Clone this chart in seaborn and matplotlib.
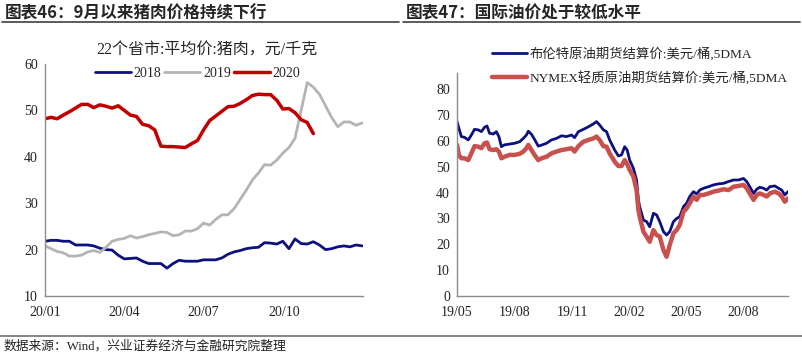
import pandas as pd
import matplotlib
matplotlib.use("Agg")
import matplotlib.pyplot as plt
import seaborn as sns

sns.set_style("white")
plt.rcParams["font.family"] = ["Liberation Serif", "Noto Sans CJK SC", "DejaVu Sans"]
plt.rcParams["axes.unicode_minus"] = False

# %% pork price data (weekly, plotted on a 2020 calendar)
pork_2018 = [21.8, 22.0, 22.0, 21.8, 21.8, 21.0, 21.0, 21.0, 20.8, 20.3, 20.0, 19.9, 18.8,
             18.0, 18.1, 18.2, 17.5, 17.0, 17.0, 17.0, 16.0, 17.0, 17.7, 17.5, 17.5, 17.5,
             17.8, 17.8, 17.8, 18.2, 19.0, 19.5, 19.8, 20.2, 20.4, 20.5, 21.5, 21.4, 21.2,
             21.8, 20.2, 22.3, 21.3, 21.2, 21.7, 21.0, 20.0, 20.2, 20.6, 20.8, 20.6, 21.0, 20.8]
pork_2019 = [20.8, 20.2, 19.6, 19.3, 18.6, 18.6, 18.8, 19.5, 19.8, 19.4, 20.5, 21.8, 22.2,
             22.4, 23.0, 22.5, 22.8, 23.2, 23.5, 23.8, 23.7, 23.0, 23.2, 24.0, 24.0, 24.5,
             25.7, 25.3, 26.5, 27.5, 27.5, 28.8, 30.8, 32.8, 35.0, 36.5, 38.3, 38.2, 39.3,
             40.8, 42.0, 44.0, 50.0, 56.0, 55.0, 53.5, 51.0, 48.5, 46.5, 47.5, 47.5, 46.8, 47.3]
pork_2020 = [48.2, 48.5, 48.2, 49.0, 49.7, 50.5, 51.3, 51.3, 50.6, 51.2, 50.9, 50.5, 51.0,
             50.0, 49.0, 48.7, 47.0, 46.7, 45.8, 42.3, 42.2, 42.2, 42.1, 42.0, 42.8, 43.5,
             45.8, 47.8, 48.8, 49.8, 50.8, 50.9, 51.5, 52.3, 53.2, 53.5, 53.4, 53.4, 52.2,
             50.3, 50.4, 49.5, 48.0, 47.4, 45.0]
pork_years = ["2018", "2019", "2020"]
pork_colors = ["#0D1180", "#B4B4B4", "#C00000"]

# %% oil price data (5DMA)
oil_dates = ["2019-05-01", "2019-05-04", "2019-05-08", "2019-05-13", "2019-05-19", "2019-05-24",
             "2019-05-29", "2019-06-04", "2019-06-09", "2019-06-14", "2019-06-18", "2019-06-22",
             "2019-06-28", "2019-07-03", "2019-07-07", "2019-07-11", "2019-07-16", "2019-07-24",
             "2019-08-01", "2019-08-09", "2019-08-15", "2019-08-20", "2019-08-23", "2019-08-28",
             "2019-09-02", "2019-09-08", "2019-09-13", "2019-09-21", "2019-09-29", "2019-10-07",
             "2019-10-15", "2019-10-23", "2019-10-31", "2019-11-05", "2019-11-11", "2019-11-19",
             "2019-11-27", "2019-12-05", "2019-12-10", "2019-12-15", "2019-12-21", "2019-12-26",
             "2019-12-31", "2020-01-08", "2020-01-14", "2020-01-19", "2020-01-24", "2020-01-28",
             "2020-02-01", "2020-02-07", "2020-02-12", "2020-02-15", "2020-02-17", "2020-02-23",
             "2020-02-28", "2020-03-04", "2020-03-10", "2020-03-15", "2020-03-20", "2020-03-26",
             "2020-03-31", "2020-04-05", "2020-04-11", "2020-04-16", "2020-04-21", "2020-04-27",
             "2020-05-02", "2020-05-07", "2020-05-13", "2020-05-18", "2020-05-23", "2020-05-29",
             "2020-06-06", "2020-06-14", "2020-06-22", "2020-06-30", "2020-07-08", "2020-07-16",
             "2020-07-24", "2020-08-01", "2020-08-06", "2020-08-11", "2020-08-17", "2020-08-22",
             "2020-08-27", "2020-09-02", "2020-09-07", "2020-09-12", "2020-09-20", "2020-09-26",
             "2020-10-01", "2020-10-06", "2020-10-11"]
brent = [67.5, 65.0, 61.7, 61.4, 60.4, 62.3, 64.5, 64.3, 63.6, 65.3, 65.8, 63.0,
         62.7, 63.6, 61.7, 57.8, 58.5, 58.8, 59.1, 59.7, 61.0, 62.3, 63.8, 62.6,
         60.6, 58.0, 58.4, 59.1, 60.4, 61.0, 62.0, 61.7, 62.3, 61.3, 63.6, 64.5,
         65.5, 66.6, 67.5, 66.2, 64.3, 63.6, 60.4, 56.5, 54.2, 54.6, 57.8, 56.5,
         52.6, 49.4, 44.9, 37.2, 34.6, 29.4, 28.8, 26.8, 32.0, 31.4, 28.8, 24.9,
         23.6, 24.9, 28.8, 30.0, 30.7, 34.6, 35.9, 38.5, 40.4, 39.5, 41.0, 41.7,
         42.3, 43.0, 43.4, 43.6, 44.3, 44.9, 44.9, 45.5, 44.3, 42.3, 39.7, 41.3,
         42.1, 41.7, 41.0, 42.3, 42.6, 41.7, 41.0, 39.1, 40.4]
nymex = [58.5, 54.6, 53.3, 53.3, 52.6, 55.2, 58.0, 57.8, 57.2, 59.1, 59.4, 56.8,
         56.5, 56.8, 55.9, 53.3, 53.9, 54.6, 54.6, 55.0, 55.9, 57.2, 58.5, 56.5,
         54.6, 52.6, 53.3, 53.9, 55.2, 55.9, 56.5, 56.8, 57.2, 55.9, 58.0, 59.7,
         60.4, 61.0, 61.7, 60.4, 58.0, 57.8, 55.2, 52.0, 50.3, 50.3, 52.6, 51.1,
         48.8, 46.2, 41.0, 33.3, 30.7, 24.9, 23.0, 21.0, 25.5, 23.6, 23.0, 17.8,
         15.2, 19.7, 24.3, 25.5, 27.5, 32.6, 33.9, 35.9, 38.5, 37.2, 39.1, 39.1,
         39.7, 40.4, 40.8, 41.3, 41.0, 42.3, 42.6, 43.0, 41.7, 39.7, 37.2, 39.1,
         39.7, 39.1, 38.5, 39.7, 40.4, 39.7, 38.5, 36.5, 37.8]
oil_names = ["布伦特原油期货结算价:美元/桶,5DMA", "NYMEX轻质原油期货结算价:美元/桶,5DMA"]
oil_colors = ["#0D1180", "#C8504D"]
oil_widths = [2.0, 3.2]

# %% build frames
weeks = pd.date_range("2020-01-01", periods=len(pork_2018), freq="7D")
pork = pd.concat([
    pd.DataFrame({"date": weeks[:len(vals)], "price": vals, "year": yr})
    for yr, vals in zip(pork_years, [pork_2018, pork_2019, pork_2020])
])
oil = pd.concat([
    pd.DataFrame({"date": pd.to_datetime(oil_dates), "price": vals, "name": nm})
    for nm, vals in zip(oil_names, [brent, nymex])
])

fig = plt.figure(figsize=(8.02, 3.56), dpi=100)
ax1 = fig.add_axes([0.0561, 0.1685, 0.3965, 0.6517])
ax2 = fig.add_axes([0.5698, 0.1685, 0.4127, 0.6264])

sns.lineplot(data=pork, x="date", y="price", hue="year", palette=pork_colors,
             ax=ax1, legend=False)
for line, lw in zip(ax1.lines, [2.0, 2.0, 2.5]):
    line.set_linewidth(lw)
sns.lineplot(data=oil, x="date", y="price", hue="name", palette=oil_colors,
             ax=ax2, legend=False)
for line, lw in zip(ax2.lines, oil_widths):
    line.set_linewidth(lw)

# left chart styling
ax1.set_xlim(pd.Timestamp("2020-01-01"), pd.Timestamp("2020-12-31"))
ax1.set_ylim(10, 60)
ax1.set_yticks(range(10, 61, 10))
ax1.set_xticks(pd.to_datetime(["2020-01-01", "2020-04-01", "2020-07-01", "2020-10-01", "2020-12-31"]))
ax1.set_xticklabels(["20/01", "20/04", "20/07", "20/10", ""])
ax1.set_title("22个省市:平均价:猪肉，元/千克", fontsize=11.5, pad=7, x=0.51)
ax1.legend(handles=ax1.lines, labels=pork_years, loc="upper center", ncol=3,
           bbox_to_anchor=(0.48, 1.04), frameon=False, fontsize=10,
           handlelength=2.6, columnspacing=0.2, handletextpad=0.2)

# right chart styling
ax2.set_xlim(pd.Timestamp("2019-05-01"), pd.Timestamp("2020-10-11"))
ax2.set_ylim(0, 86.3)
ax2.set_yticks(range(0, 81, 10))
ax2.set_xticks(pd.to_datetime(["2019-05-01", "2019-08-01", "2019-11-01", "2020-02-01",
                               "2020-05-01", "2020-08-01"]))
ax2.set_xticklabels(["19/05", "19/08", "19/11", "20/02", "20/05", "20/08"])
ax2.legend(handles=ax2.lines, labels=oil_names, loc="lower left",
           bbox_to_anchor=(0.07, 0.895), frameon=False, fontsize=9.6,
           handlelength=2.6, handletextpad=0.2, labelspacing=0.75)

for ax in (ax1, ax2):
    ax.set_xlabel("")
    ax.set_ylabel("")
    sns.despine(ax=ax)
    for s in ("left", "bottom"):
        ax.spines[s].set_color("#8C8C8C")
        ax.spines[s].set_linewidth(1.0)
    ax.tick_params(axis="both", direction="in", length=4, color="#8C8C8C",
                   labelsize=10, labelcolor="#222222")
    ax.tick_params(axis="x", pad=7)
    ax.tick_params(axis="y", pad=5)

# headers and footer
fig.text(0.006, 0.962, "图表46：9月以来猪肉价格持续下行", fontsize=12, fontweight="bold",
         va="center", family=["Noto Sans CJK SC", "DejaVu Sans"])
fig.text(0.506, 0.962, "图表47：国际油价处于较低水平", fontsize=12, fontweight="bold",
         va="center", family=["Noto Sans CJK SC", "DejaVu Sans"])
fig.add_artist(plt.Line2D([0.002, 0.497], [0.939, 0.939], color="#404040", lw=1.2))
fig.add_artist(plt.Line2D([0.503, 0.998], [0.939, 0.939], color="#404040", lw=1.2))
fig.add_artist(plt.Line2D([0.0, 1.0], [0.057, 0.057], color="#707070", lw=1.2))
fig.text(0.004, 0.028, "数据来源：Wind，兴业证券经济与金融研究院整理", fontsize=9.2,
         va="center", color="#222222")

fig.savefig("out.png", dpi=100)
